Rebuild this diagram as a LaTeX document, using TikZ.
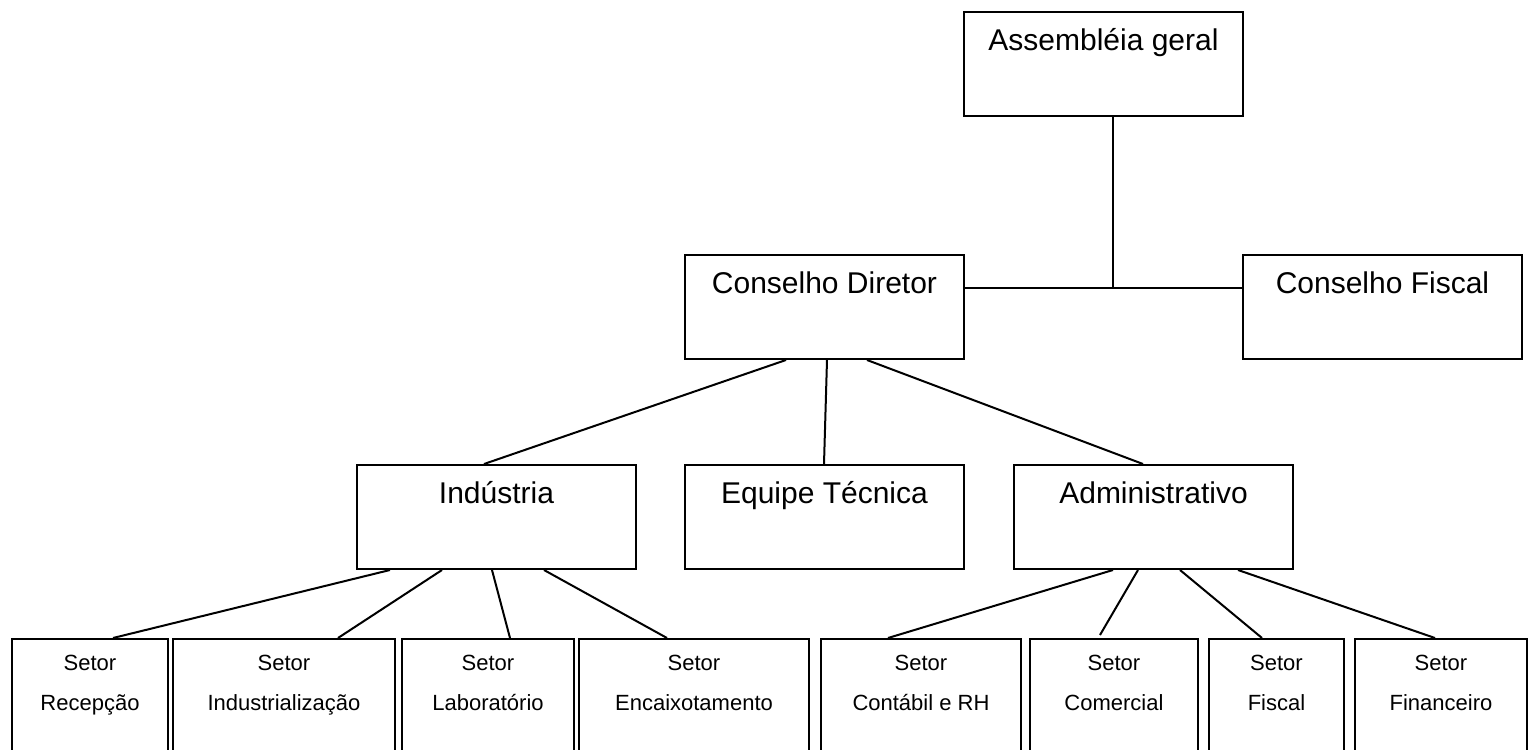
\documentclass[tikz,border=0pt]{standalone}
\usepackage{fontspec}
\setsansfont{Liberation Sans}
\usetikzlibrary{calc}
\tikzset{every picture/.style={/utils/exec={\sffamily}}}
\tikzset{
	box/.style={draw, line width=1pt, inner sep=0pt, anchor=north west},
	bigbox/.style={box, minimum width=139.5pt, minimum height=52pt,
		label={[anchor=base, yshift=-19.5pt, inner sep=0pt, font=\fontsize{15}{18}\selectfont]north:#1}},
	setor/.style={box, minimum height=61pt,
		label={[anchor=base, yshift=-16pt, inner sep=0pt, font=\fontsize{11}{13}\selectfont]north:Setor},
		label={[anchor=base, yshift=-36pt, inner sep=0pt, font=\fontsize{11}{13}\selectfont]north:#1}},
	link/.style={line width=1pt}
}

\begin{document}
\begin{tikzpicture}[x=0.5pt, y=-0.5pt]
		\useasboundingbox (0,0) rectangle (1528,750);

		% upper levels
		\node[bigbox={Assembléia geral}] (ag) at (963, 11) {};
		\node[bigbox={Conselho Diretor}] (cd) at (684, 254) {};
		\node[bigbox={Conselho Fiscal}] (cf) at (1242, 254) {};

		\node[bigbox={Indústria}] (ind) at (356, 464) {};
		\node[bigbox={Equipe Técnica}] (eq) at (684, 464) {};
		\node[bigbox={Administrativo}] (adm) at (1013, 464) {};

		% setores
		\node[setor={Recepção}, minimum width=78pt] (rec) at (11, 638) {};
		\node[setor={Industrialização}, minimum width=111pt] (indz) at (172, 638) {};
		\node[setor={Laboratório}, minimum width=86pt] (lab) at (401, 638) {};
		\node[setor={Encaixotamento}, minimum width=115pt] (enc) at (578, 638) {};

		\node[setor={Contábil e RH}, minimum width=100pt] (cont) at (820, 638) {};
		\node[setor={Comercial}, minimum width=84pt] (com) at (1029, 638) {};
		\node[setor={Fiscal}, minimum width=67.5pt] (fis) at (1208, 638) {};
		\node[setor={Financeiro}, minimum width=86pt] (fin) at (1354, 638) {};

		% assembleia to the councils
		\coordinate (hub) at (1113, 288);
		\draw[link] (hub |- ag.south) -- (hub);
		\draw[link] (cd.east |- hub) -- (cf.west |- hub);

		% tree lines
		\foreach \a/\da/\b/\db in {cd/102/ind/128, cd/143/eq/140, cd/183/adm/130,
			ind/34/rec/102, ind/86/indz/166, ind/136/lab/109, ind/188/enc/89,
			adm/100/cont/68, adm/167/fis/54, adm/225/fin/81}
			\draw[link] ($(\a.south west)+(\da,0)$) -- ($(\b.north west)+(\db,0)$);
		\draw[link] ($(adm.south west)+(125,0)$) -- ($(com.north west)+(71,-3)$);
	\end{tikzpicture}
\end{document}
